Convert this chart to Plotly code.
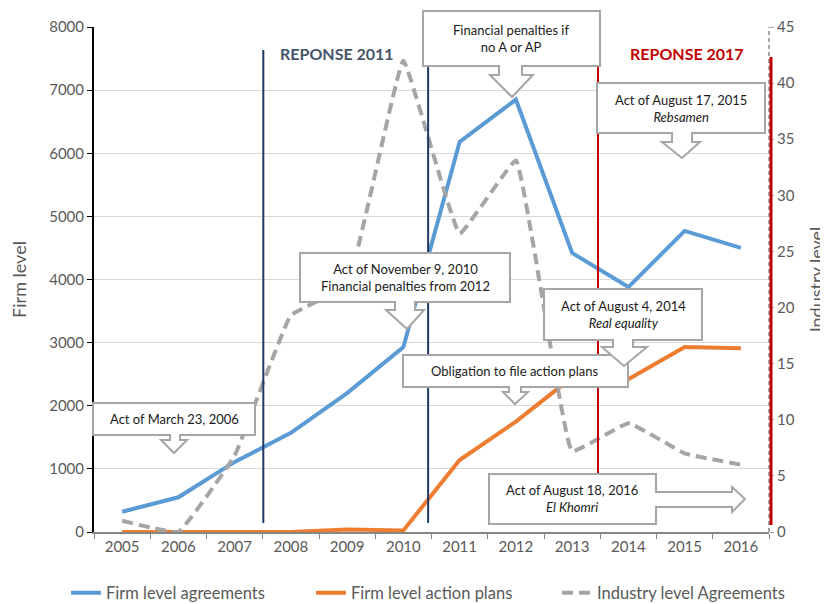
import plotly.graph_objects as go

years = ["2005", "2006", "2007", "2008", "2009", "2010", "2011", "2012", "2013", "2014", "2015", "2016"]
firm_agreements = [320, 550, 1110, 1570, 2200, 2930, 6180, 6850, 4420, 3880, 4770, 4500]
firm_action_plans = [0, 0, 0, 0, 40, 25, 1140, 1750, 2450, 2420, 2930, 2910]
industry_agreements = [1.0, 0.0, 6.8, 19.3, 22.0, 42.0, 26.6, 33.1, 7.2, 9.7, 7.0, 6.0]

# page body adds an 8px margin; work in reference-picture pixels and offset
OFF = 8
W, H = 828 - OFF, 604 - OFF
L, R, T, B = 94 - OFF, 59, 27 - OFF, 72
PW, PH = W - L - R, H - T - B


def px(x):
    return (x - OFF - L) / PW


def py(y):
    return (H - B - (y - OFF)) / PH


FONT = "Lato"
GRAY_TXT = "#595959"

fig = go.Figure()
fig.add_trace(go.Scatter(x=years, y=firm_agreements, name="Firm level agreements", mode="lines",
                         legend="legend", line=dict(color="#5B9BD5", width=4)))
fig.add_trace(go.Scatter(x=years, y=firm_action_plans, name="Firm level action plans", mode="lines",
                         legend="legend2", line=dict(color="#ED7D31", width=4)))
fig.add_trace(go.Scatter(x=years, y=industry_agreements, name="Industry level Agreements", mode="lines",
                         legend="legend3", yaxis="y2",
                         line=dict(color="#A5A5A5", width=4, dash="11px,6px", shape="spline", smoothing=0.25)))

shapes = []
# right axis dashed line
shapes.append(dict(type="line", xref="paper", yref="paper", x0=1, x1=1, y0=0, y1=1,
                   line=dict(color="#A6A6A6", width=2, dash="4px,3px"), layer="above"))
# vertical reform lines
for xv, top, col, wd in [(2.51, 50, "#203864", 2), (5.44, 50, "#203864", 2), (8.46, 50, "#C00000", 2)]:
    shapes.append(dict(type="line", xref="x", yref="paper", x0=xv, x1=xv, y0=py(523), y1=py(top),
                       line=dict(color=col, width=wd), layer="above"))
shapes.append(dict(type="line", xref="paper", yref="paper", x0=px(771), x1=px(771), y0=py(525), y1=py(57),
                   line=dict(color="#C00000", width=3), layer="above"))


def down_callout(x0, y0, x1, y1, sx0, sx1, sy, hx0, hx1, tx, ty):
    pts = [(x0, y0), (x1, y0), (x1, y1), (sx1, y1), (sx1, sy), (hx1, sy), (tx, ty),
           (hx0, sy), (sx0, sy), (sx0, y1), (x0, y1)]
    return "M " + " L ".join(f"{px(a):.5f},{py(b):.5f}" for a, b in pts) + " Z"


def right_callout(x0, y0, x1, y1, st, sb, hx, ht, hb, tx, ty):
    pts = [(x0, y0), (x1, y0), (x1, st), (hx, st), (hx, ht), (tx, ty), (hx, hb), (hx, sb),
           (x1, sb), (x1, y1), (x0, y1)]
    return "M " + " L ".join(f"{px(a):.5f},{py(b):.5f}" for a, b in pts) + " Z"


callouts = [
    (down_callout(93, 403, 255, 435, 170, 180, 440, 161, 187, 174, 453), (174, 419), "Act of March 23, 2006"),
    (down_callout(300, 253, 510, 302, 395, 415, 310, 386, 424, 407, 329), (405, 277.5),
     "Act of November 9, 2010<br>Financial penalties from 2012"),
    (down_callout(403, 355, 628, 387, 509, 521, 392, 503, 528, 515, 404), (515, 371),
     "Obligation to file action plans"),
    (down_callout(544, 289, 702, 340, 613, 633, 347, 602, 647, 624, 366), (623, 314.5),
     "Act of August 4, 2014<br><i>Real equality</i>"),
    (down_callout(423, 11, 600, 66, 499, 522, 75, 490, 533, 512, 97), (511, 38.5),
     "Financial penalties if<br>no A or AP"),
    (down_callout(597, 83, 765, 133, 672, 692, 142, 662, 700, 682, 158), (681, 108),
     "Act of August 17, 2015<br><i>Rebsamen</i>"),
    (right_callout(489, 474, 656, 524, 492, 507, 732, 487, 512, 745, 499), (572, 499),
     "Act of August 18, 2016<br><i>El Khomri</i>"),
]

annotations = []
for path, (cx, cy), text in callouts:
    shapes.append(dict(type="path", xref="paper", yref="paper", path=path, fillcolor="white",
                       line=dict(color="#A6A6A6", width=2), layer="above"))
    annotations.append(dict(xref="paper", yref="paper", x=px(cx), y=py(cy), text=text, showarrow=False,
                            xanchor="center", yanchor="middle", align="center",
                            font=dict(family=FONT, size=13, color="#1a1a1a")))

annotations.append(dict(xref="paper", yref="paper", x=px(337), y=py(53), text="<b>REPONSE 2011</b>",
                        showarrow=False, xanchor="center", yanchor="middle",
                        font=dict(family=FONT, size=16, color="#44546A")))
annotations.append(dict(xref="paper", yref="paper", x=px(687), y=py(53), text="<b>REPONSE 2017</b>",
                        showarrow=False, xanchor="center", yanchor="middle",
                        font=dict(family=FONT, size=16, color="#C00000")))


def legend_at(xref_px):
    return dict(orientation="h", xref="container", x=(xref_px - OFF) / W, xanchor="left",
                yref="container", y=1 - (593 - OFF) / H, yanchor="middle",
                font=dict(family=FONT, size=16.5, color=GRAY_TXT), bgcolor="rgba(0,0,0,0)")


fig.update_layout(
    width=W, height=H,
    margin=dict(l=L, r=R, t=T, b=B, autoexpand=False),
    paper_bgcolor="white", plot_bgcolor="white",
    font=dict(family=FONT, color=GRAY_TXT),
    showlegend=True,
    legend=legend_at(66),
    legend2=legend_at(311),
    legend3=legend_at(557),
    xaxis=dict(type="category", range=[-0.5, 11.5], showgrid=False, showline=True, automargin=False,
               linecolor="#868686", linewidth=2, ticks="outside", tickson="boundaries",
               ticklen=5, tickcolor="#868686", tickwidth=1,
               tickfont=dict(family=FONT, size=15, color=GRAY_TXT)),
    yaxis=dict(range=[0, 8000], dtick=1000, showgrid=True, gridcolor="#D9D9D9", gridwidth=1,
               showline=True, linecolor="black", linewidth=2, ticks="outside", ticklen=5,
               tickcolor="black", zeroline=False, automargin=False,
               tickfont=dict(family=FONT, size=15, color=GRAY_TXT),
               title=dict(text="Firm level", font=dict(family=FONT, size=18, color=GRAY_TXT), standoff=22)),
    yaxis2=dict(range=[0, 45], dtick=5, overlaying="y", side="right", showgrid=False, showline=False,
                ticks="outside", ticklen=4, tickcolor="#A6A6A6", zeroline=False, automargin=False,
                tickfont=dict(family=FONT, size=15, color=GRAY_TXT),
                title=dict(text="Industry level", font=dict(family=FONT, size=18, color=GRAY_TXT), standoff=16)),
    shapes=shapes,
    annotations=annotations,
)

fig.write_html("out.html")
